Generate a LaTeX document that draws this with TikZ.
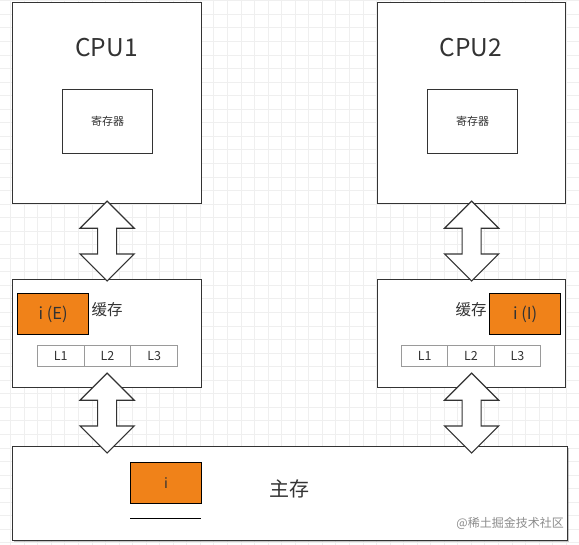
\documentclass[tikz,border=0pt]{standalone}
\usepackage{fontspec}
\setmainfont{Noto Sans CJK SC}
\usetikzlibrary{calc,shadows}
\definecolor{boxline}{HTML}{333333}
\definecolor{txt}{HTML}{333333}
\definecolor{orangefill}{HTML}{F08219}
\definecolor{cellline}{HTML}{9A9A9A}
\definecolor{gridc}{HTML}{EFEFEF}
\tikzset{
  box/.style={draw=boxline, line width=1.2pt, fill=white, inner sep=0pt, anchor=north west},
  orangebox/.style={draw=black, line width=1.3pt, fill=orangefill, inner sep=0pt, anchor=north west,
     minimum width=71pt, minimum height=41pt, text=txt, font=\fontsize{16.5}{19}\selectfont},
  cell/.style={draw=cellline, line width=0.9pt, fill=white, inner sep=0pt, anchor=north west,
     minimum height=21pt, text=txt, font=\fontsize{12.5}{14}\selectfont},
  blockarrow/.style={draw=boxline, line width=1.2pt, fill=white, line join=miter},
  gridline/.style={draw=gridc, line width=0.6pt},
  lbl/.style={text=txt, inner sep=0pt}
}
\newcommand\blockarrow[2]{%
  \draw[blockarrow] let \p1=#1, \p2=#2 in
    (\x1,\y1) -- (\x1+27pt,\y1-27pt) -- (\x1+9.5pt,\y1-27pt) -- (\x1+9.5pt,\y2+27pt)
    -- (\x1+27pt,\y2+27pt) -- (\x1,\y2) -- (\x1-27pt,\y2+27pt) -- (\x1-9.5pt,\y2+27pt)
    -- (\x1-9.5pt,\y1-27pt) -- (\x1-27pt,\y1-27pt) -- cycle;}
\begin{document}
\begin{tikzpicture}[x=1pt,y=-1pt]
\useasboundingbox (0,0) rectangle (579,545);
\fill[white] (0,0) rectangle (579,545);
\begin{scope}
\clip (0,0) rectangle (579,545);
\foreach \i in {0,...,42} \draw[gridline] (10.5+13.55*\i,0) -- ++(0,545);
\foreach \i in {0,...,40} \draw[gridline] (0,0.7+13.55*\i) -- ++(579,0);
\end{scope}

% CPU1
\node[box, minimum width=189pt, minimum height=201pt] (cpu1) at (12,2) {};
\node[lbl, font=\fontsize{24.5}{30}\selectfont] (cpu1label) at (106.5,48) {CPU1};
\node[box, minimum width=90pt, minimum height=64pt, font=\fontsize{11}{13}\selectfont, text=txt] (reg1) at (62,89) {寄存器};

% CPU2
\node[box, minimum width=188pt, minimum height=201pt] (cpu2) at (377,2) {};
\node[lbl, font=\fontsize{24.5}{30}\selectfont] (cpu2label) at (471,48) {CPU2};
\node[box, minimum width=90pt, minimum height=64pt, font=\fontsize{11}{13}\selectfont, text=txt] (reg2) at (427,89) {寄存器};

% Cache1
\node[box, minimum width=189pt, minimum height=108pt] (cache1) at (12,279) {};
\node[orangebox] (ie) at (17,293) {i (E)};
\node[lbl, font=\fontsize{15.5}{18}\selectfont] (cache1label) at (107,310) {缓存};
\node[cell, minimum width=46.7pt] (c1l1) at (37,345) {L1};
\node[cell, minimum width=46.7pt] (c1l2) at (83.7,345) {L2};
\node[cell, minimum width=46.7pt] (c1l3) at (130.4,345) {L3};

% Cache2
\node[box, minimum width=188pt, minimum height=108pt] (cache2) at (377,279) {};
\node[lbl, font=\fontsize{15.5}{18}\selectfont] (cache2label) at (471,310) {缓存};
\node[orangebox] (ii) at (489,293) {i (I)};
\node[cell, minimum width=46.4pt] (c2l1) at (401,345) {L1};
\node[cell, minimum width=46.4pt] (c2l2) at (447.4,345) {L2};
\node[cell, minimum width=46.4pt] (c2l3) at (493.8,345) {L3};

% Main memory
\node[box, minimum width=555pt, minimum height=94pt,
      drop shadow={opacity=0.45, shadow xshift=1.2pt, shadow yshift=-1.8pt}] (main) at (12,446) {};
\node[orangebox, font=\fontsize{14}{17}\selectfont] (mi) at (130,462) {i};
\coordinate (ula) at (130,518);
\coordinate (ulb) at (201,518);
\draw[black, line width=0.9pt] (ula) -- (ulb);
\node[lbl, font=\fontsize{20}{24}\selectfont] (mainlabel) at (289.5,489) {主存};
\node[lbl, anchor=east, text=gray!90, font=\fontsize{12}{14}\selectfont] (wm) at (564,523) {@稀土掘金技术社区};

% Arrows
\blockarrow{($(cpu1.south)+(0,-3)$)}{($(cache1.north)+(0,2)$)}
\blockarrow{($(cpu2.south)+(0,-3)$)}{($(cache2.north)+(0,2)$)}
\blockarrow{($(cache1.south)+(0,-15)$)}{($(cache1.south |- main.north)+(0,7)$)}
\blockarrow{($(cache2.south)+(0,-15)$)}{($(cache2.south |- main.north)+(0,7)$)}
\end{tikzpicture}
\end{document}
